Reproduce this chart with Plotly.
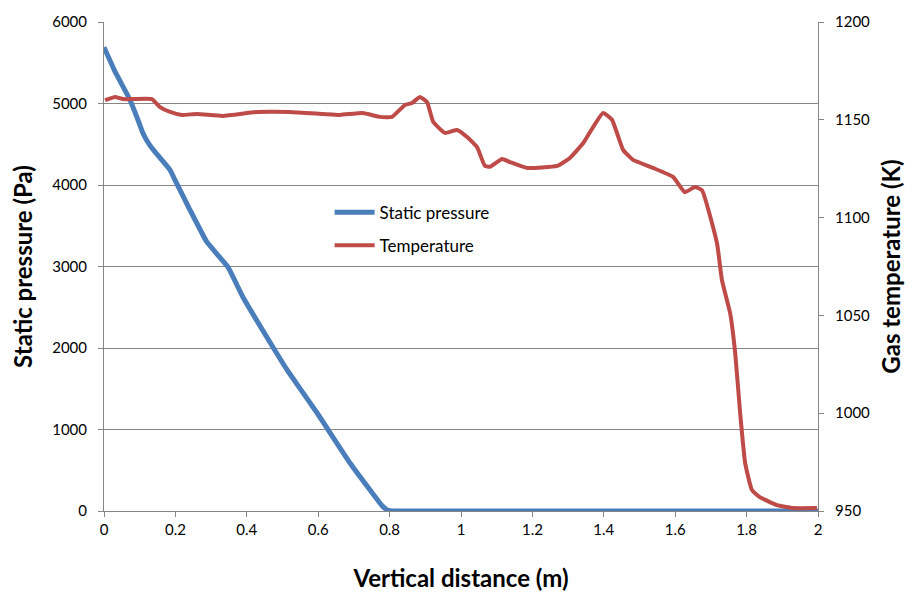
import plotly.graph_objects as go

# Static pressure along the vertical distance (m -> Pa)
pressure_x = [0.0, 0.031, 0.073, 0.095, 0.109, 0.122, 0.134, 0.162, 0.185, 0.199,
              0.241, 0.288, 0.347, 0.389, 0.473, 0.513, 0.597, 0.689, 0.75, 0.78,
              0.795, 0.81, 0.83, 1.0, 1.5, 2.0]
pressure_pa = [5690, 5390, 5043, 4800, 4638, 4530, 4454, 4307, 4184, 4061,
               3693, 3301, 2994, 2626, 2012, 1730, 1202, 589, 230, 60,
               10, 0, 0, 0, 0, 0]

# Gas temperature along the vertical distance (m -> K)
temp_x = [0.003, 0.031, 0.053, 0.081, 0.134, 0.157, 0.185, 0.218, 0.261, 0.333,
          0.429, 0.521, 0.613, 0.661, 0.725, 0.773, 0.807, 0.843, 0.863, 0.885,
          0.905, 0.922, 0.955, 0.989, 1.017, 1.045, 1.067, 1.081, 1.115, 1.137,
          1.185, 1.269, 1.305, 1.342, 1.353, 1.398, 1.423, 1.454, 1.482, 1.538,
          1.594, 1.627, 1.655, 1.675, 1.717, 1.731, 1.754, 1.768, 1.782, 1.796,
          1.815, 1.838, 1.885, 1.930, 1.997]
temp_k = [1160.0, 1161.7, 1160.6, 1160.6, 1160.6, 1156.5, 1154.0, 1152.5, 1153.0, 1152.0,
          1154.0, 1154.0, 1153.0, 1152.5, 1153.5, 1151.5, 1151.5, 1157.6, 1158.6, 1161.7,
          1159.0, 1149.0, 1143.3, 1144.8, 1141.2, 1136.0, 1126.4, 1126.0, 1130.0, 1128.4,
          1125.4, 1126.4, 1130.5, 1138.0, 1141.2, 1153.5, 1150.0, 1134.6, 1129.5, 1125.4,
          1120.8, 1113.0, 1115.6, 1114.0, 1087.0, 1068.0, 1051.0, 1030.8, 1000.0, 974.5,
          960.7, 957.0, 953.0, 951.5, 951.5]

x_ticks = [0, 0.2, 0.4, 0.6, 0.8, 1.0, 1.2, 1.4, 1.6, 1.8, 2.0]
x_tick_labels = ["0", "0.2", "0.4", "0.6", "0.8", "1", "1.2", "1.4", "1.6", "1.8", "2"]

FONT = "Lato"
AXIS_GREY = "#868686"
TICK_SIZE = 15
TITLE_SIZE = 24

fig = go.Figure()
fig.add_trace(go.Scatter(
    x=pressure_x, y=pressure_pa, mode="lines", name="Static pressure",
    line=dict(color="#4A7EBB", width=5, shape="spline", smoothing=0.3),
    legendgroup="p", yaxis="y",
))
fig.add_trace(go.Scatter(
    x=temp_x, y=temp_k, mode="lines", name="Temperature",
    line=dict(color="#BE4B48", width=4, shape="spline", smoothing=0.4),
    legendgroup="t", yaxis="y2",
))

fig.update_layout(
    width=915, height=593,
    margin=dict(l=104, r=97, t=22, b=82),
    paper_bgcolor="white", plot_bgcolor="white",
    font=dict(family=FONT, size=TICK_SIZE, color="#000000"),
    showlegend=True,
    legend=dict(
        x=0.316, y=0.647, xanchor="left", yanchor="top",
        bgcolor="rgba(0,0,0,0)", font=dict(size=17, family=FONT),
        itemwidth=40, traceorder="grouped", tracegroupgap=8,
    ),
    xaxis=dict(
        range=[0, 2], tickvals=x_ticks, ticktext=x_tick_labels,
        showgrid=False, zeroline=False, automargin=False,
        showline=True, linecolor=AXIS_GREY, linewidth=1,
        ticks="outside", ticklen=5, tickcolor=AXIS_GREY,
        tickfont=dict(size=TICK_SIZE, family=FONT),
        title=dict(text="<b>Vertical distance (m)</b>",
                   font=dict(size=TITLE_SIZE, family=FONT), standoff=33),
        layer="below traces",
    ),
    yaxis=dict(
        range=[0, 6000], dtick=1000, tick0=0,
        showgrid=True, gridcolor=AXIS_GREY, gridwidth=1, zeroline=False,
        showline=True, linecolor=AXIS_GREY, linewidth=1,
        ticks="outside", ticklen=5, tickcolor=AXIS_GREY,
        ticklabelstandoff=8,
        tickfont=dict(size=TICK_SIZE, family=FONT),
        title=dict(text="<b>Static pressure (Pa)</b>",
                   font=dict(size=TITLE_SIZE, family=FONT), standoff=12),
        layer="below traces",
    ),
    yaxis2=dict(
        range=[950, 1200], dtick=50, tick0=950,
        overlaying="y", side="right",
        showgrid=False, zeroline=False,
        showline=True, linecolor=AXIS_GREY, linewidth=1,
        ticks="outside", ticklen=5, tickcolor=AXIS_GREY,
        ticklabelstandoff=8,
        tickfont=dict(size=TICK_SIZE, family=FONT),
        title=dict(text="<b>Gas temperature (K)</b>",
                   font=dict(size=TITLE_SIZE, family=FONT), standoff=14),
        layer="below traces",
    ),
)

fig.write_html("out.html")
